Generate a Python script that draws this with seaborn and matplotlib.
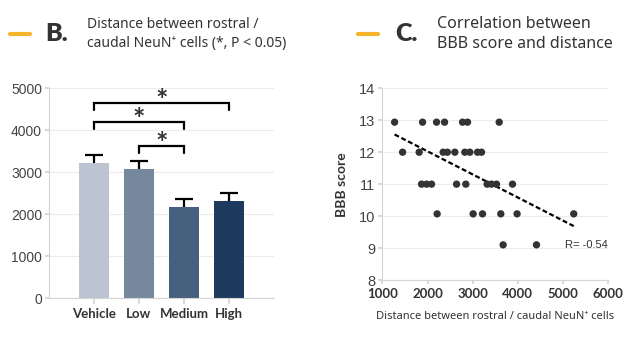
import pandas as pd
import seaborn as sns
import matplotlib.pyplot as plt


# -------------------------------------------------
# DATA
# -------------------------------------------------

groups = ["Vehicle", "Low", "Medium", "High"]
distance_mean = [3215, 3080, 2175, 2318]
distance_sem = [198, 197, 198, 198]
bar_colors = ["#b8c4d3", "#6e88a5", "#3f5f88", "#14386a"]

# significance brackets: (group a, group b, bracket height)
brackets = [("Vehicle", "High", 4640), ("Vehicle", "Medium", 4190), ("Low", "Medium", 3625)]

dist_13 = [1270, 1889, 2199, 2376, 2774, 2885, 3586]
dist_12 = [1447, 1814, 2345, 2438, 2604, 2825, 2936, 3106, 3195]
dist_11 = [1867, 1978, 2088, 2642, 2847, 3319, 3416, 3527, 3881]
dist_10 = [2212, 3009, 3217, 3622, 3982, 5237]
dist_9 = [3673, 4412]
bbb_levels = [12.94, 12.0, 11.0, 10.07, 9.1]

r_label = "R= -0.54"

ORANGE = "#f6b42c"
DARK = "#333333"
GRID = "#ececec"
SPINE = "#d4d4d4"
BOLD_FONT = "Lato"

sns.set_theme(style="white")
plt.rcParams["font.family"] = ["Noto Sans", "DejaVu Sans"]

fig = plt.figure(figsize=(6.3, 3.5), dpi=100)


# -------------------------------------------------
# PANEL B - BAR CHART
# -------------------------------------------------

ax1 = fig.add_axes([0.0778, 0.1477, 0.357, 0.600])

bar_df = pd.DataFrame({"group": groups, "mean": distance_mean, "sem": distance_sem})

sns.barplot(
    data=bar_df, x="group", y="mean", hue="group",
    palette=bar_colors, width=0.67, errorbar=None, legend=False, ax=ax1,
    linewidth=0,
)

_, caps, _ = ax1.errorbar(
    range(len(groups)), distance_mean,
    yerr=[[0] * len(groups), distance_sem],
    fmt="none", ecolor="black", elinewidth=1.6, capsize=6.5, capthick=1.6, zorder=3,
)
# only the upper cap is drawn in the original
caps[0].set_visible(False)

pos = {g: i for i, g in enumerate(groups)}
for a, b, h in brackets:
    xa, xb = pos[a], pos[b]
    ax1.plot([xa, xa, xb, xb], [h - 160, h, h, h - 160], color="black", lw=1.6,
             solid_joinstyle="miter", clip_on=False)
    ax1.annotate("*", ((xa + xb) / 2, h), xytext=(0, -4), textcoords="offset points",
                 ha="center", va="baseline", fontsize=21, color=DARK,
                 fontweight="bold", family=BOLD_FONT)

ax1.set_xlim(-1, 4)
ax1.set_ylim(0, 5000)
ax1.set_yticks(range(0, 5001, 1000))
ax1.set_xlabel("")
ax1.set_ylabel("")
ax1.yaxis.grid(True, color=GRID, lw=0.8)
ax1.set_axisbelow(True)
for s in ["top", "right"]:
    ax1.spines[s].set_visible(False)
for s in ["left", "bottom"]:
    ax1.spines[s].set_color(SPINE)
    ax1.spines[s].set_linewidth(0.8)
ax1.tick_params(axis="x", bottom=True, length=4, color=SPINE, pad=3)
ax1.tick_params(axis="y", left=True, length=3, color=SPINE, pad=2)
for t in ax1.get_xticklabels():
    t.set_fontsize(9.5)
    t.set_fontweight("bold")
    t.set_family(BOLD_FONT)
    t.set_color(DARK)
for t in ax1.get_yticklabels():
    t.set_fontsize(10)
    t.set_color("#444444")
    t.set_family("Liberation Sans")


# -------------------------------------------------
# PANEL C - SCATTER
# -------------------------------------------------

ax2 = fig.add_axes([0.607, 0.200, 0.3584, 0.5477])

dists = [dist_13, dist_12, dist_11, dist_10, dist_9]
sc_df = pd.DataFrame({
    "distance": [d for row in dists for d in row],
    "bbb": [lvl for row, lvl in zip(dists, bbb_levels) for _ in row],
})

sns.scatterplot(data=sc_df, x="distance", y="bbb", color=DARK, s=28,
                edgecolor="none", ax=ax2, zorder=3)
sns.regplot(data=sc_df, x="distance", y="bbb", scatter=False, ci=None, ax=ax2,
            line_kws={"color": "black", "lw": 1.6, "ls": (0, (2.2, 1.2))})

ax2.text(5990, 9.1, r_label, ha="right", va="center", fontsize=8,
         color=DARK, family="Liberation Sans")

ax2.set_xlim(1000, 6000)
ax2.set_ylim(8, 14)
ax2.set_xticks(range(1000, 6001, 1000))
ax2.set_yticks(range(8, 15))
ax2.set_xlabel("Distance between rostral / caudal NeuN\u207a cells", fontsize=8,
               color=DARK, labelpad=8)
ax2.set_ylabel("BBB score", fontsize=10, fontweight="bold", family=BOLD_FONT,
               color=DARK, labelpad=8)
ax2.yaxis.grid(True, color=GRID, lw=0.8)
ax2.set_axisbelow(True)
for s in ["top", "right"]:
    ax2.spines[s].set_visible(False)
for s in ["left", "bottom"]:
    ax2.spines[s].set_color(SPINE)
    ax2.spines[s].set_linewidth(0.8)
ax2.tick_params(axis="x", bottom=True, length=3, color=SPINE, pad=3)
ax2.tick_params(axis="y", left=True, length=3, color=SPINE, pad=2)
for t in ax2.get_xticklabels():
    t.set_fontsize(9.5)
    t.set_fontweight("bold")
    t.set_family(BOLD_FONT)
    t.set_color(DARK)
for t in ax2.get_yticklabels():
    t.set_fontsize(10.5)
    t.set_color("#444444")
    t.set_family("Liberation Sans")


# -------------------------------------------------
# PANEL HEADERS
# -------------------------------------------------

def header(x_dash, x_letter, x_title, letter, title, size):
    y = 1 - 34 / 350
    fig.add_artist(plt.Line2D([x_dash / 630, (x_dash + 20) / 630], [y, y],
                              color=ORANGE, lw=3, transform=fig.transFigure))
    fig.text(x_letter / 630, y, letter, fontsize=18, fontweight="heavy",
             family=BOLD_FONT, color=DARK, va="center", ha="left")
    fig.text(x_title / 630, y, title, fontsize=size, color=DARK,
             va="center", ha="left", linespacing=1.35)


header(10, 45, 87, "B.", "Distance between rostral /\ncaudal NeuN\u207a cells (*, P < 0.05)", 10)
header(358, 395, 437, "C.", "Correlation between\nBBB score and distance", 11.5)

plt.savefig("out.png", dpi=100)
